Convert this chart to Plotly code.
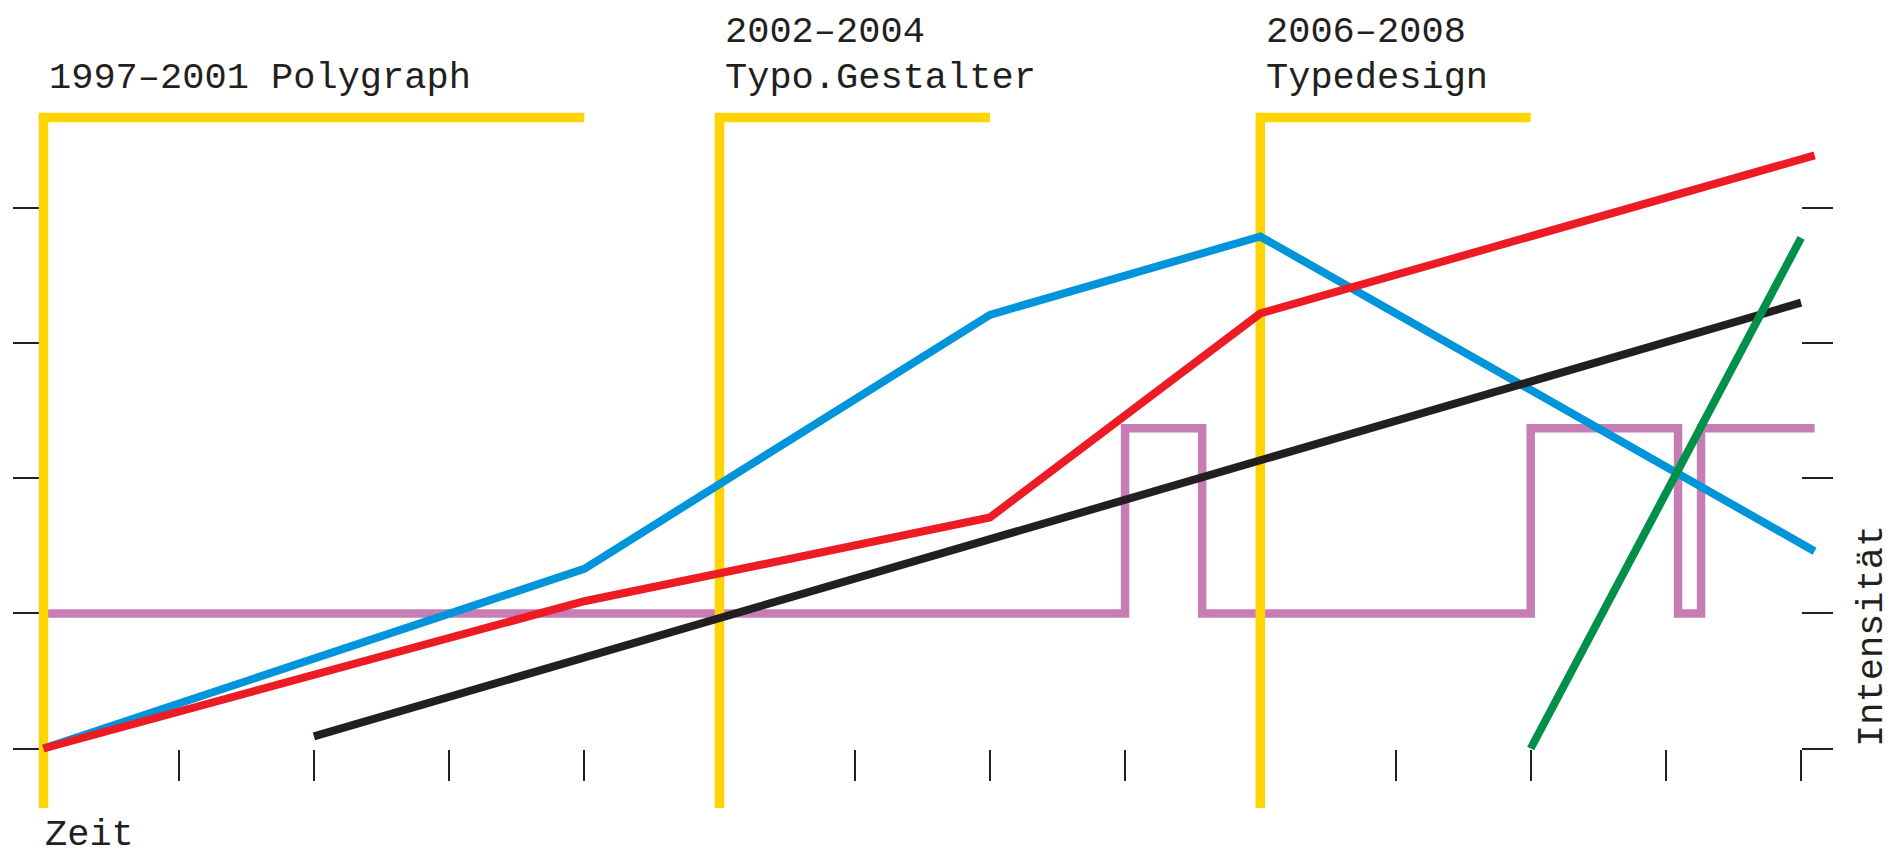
import plotly.graph_objects as go

# Time units along x (one tick per unit), intensity units along y
x_ticks = list(range(0, 14))
y_ticks = [0, 1, 2, 3, 4]

# Yellow phase brackets: start, end of the top bar
phase_start = [0, 5, 9]
phase_end = [4, 7, 11]
phase_bottom = -0.44
phase_top = 4.67
phase_years = ["1997–2001", "2002–2004", "2006–2008"]
phase_names = ["Polygraph", "Typo.Gestalter", "Typedesign"]

blue_x = [0, 4, 7, 9, 13.1]
blue_y = [0, 1.33, 3.21, 3.79, 1.46]

red_x = [0, 4, 7, 9, 13.1]
red_y = [0, 1.09, 1.71, 3.22, 4.39]

black_x = [2, 13]
black_y = [0.09, 3.3]

green_x = [11, 13]
green_y = [0, 3.78]

pink_x = [0, 8, 8.57, 11, 12.09, 12.26, 13.1]
pink_y = [1, 2.37, 1, 2.37, 1, 2.37, 2.37]

INK = "#231f20"
FONT = "Liberation Mono, Courier New, monospace"

fig = go.Figure()

# pink step line (bottom layer)
fig.add_trace(go.Scatter(x=pink_x, y=pink_y, mode="lines", line_shape="hv",
                         line=dict(color="#c57db4", width=8.5)))

# yellow brackets
yx, yy = [], []
for s, e in zip(phase_start, phase_end):
    yx += [s, s, e, None]
    yy += [phase_bottom, phase_top, phase_top, None]
fig.add_trace(go.Scatter(x=yx, y=yy, mode="lines",
                         line=dict(color="#ffd400", width=9.5)))

fig.add_trace(go.Scatter(x=blue_x, y=blue_y, mode="lines",
                         line=dict(color="#0095da", width=8)))
fig.add_trace(go.Scatter(x=red_x, y=red_y, mode="lines",
                         line=dict(color="#ed1c24", width=8)))
fig.add_trace(go.Scatter(x=black_x, y=black_y, mode="lines",
                         line=dict(color=INK, width=8)))
fig.add_trace(go.Scatter(x=green_x, y=green_y, mode="lines", yaxis="y2",
                         line=dict(color="#00904a", width=8)))

# pixel mapping: whole figure is the plot area (page adds an 8px body margin)
W, H = 1896, 853
x0_px, x_unit = 35.5, 135.2
y0_px, y_unit = 740.5, 135.1
x_range = [-x0_px / x_unit, (W - x0_px) / x_unit]
y_range = [-(H - y0_px) / y_unit, y0_px / y_unit]

tick_style = dict(ticks="outside", ticklen=31, tickwidth=1.6, tickcolor=INK,
                  showticklabels=False, showgrid=False, zeroline=False,
                  showline=False, layer="below traces", fixedrange=True)

annotations = []
for i, (s, yr, nm) in enumerate(zip(phase_start, phase_years, phase_names)):
    xs = s + (0.033 if i == 0 else 0.035)
    if i == 0:
        annotations.append(dict(x=xs, y=4.963, text=yr + " " + nm))
    else:
        annotations.append(dict(x=xs, y=5.301, text=yr))
        annotations.append(dict(x=xs, y=4.963, text=nm))
annotations.append(dict(x=0.0, y=-0.64, text="Zeit"))
for a in annotations:
    a.update(xref="x", yref="y", xanchor="left", yanchor="middle",
             showarrow=False, borderpad=0)
annotations.append(dict(x=13.524, y=0.833, text="Intensität", textangle=-90,
                        xref="x", yref="y", xanchor="center", yanchor="middle",
                        showarrow=False))

fig.update_layout(
    width=W, height=H,
    margin=dict(l=0, r=0, t=0, b=0),
    paper_bgcolor="white", plot_bgcolor="white",
    showlegend=False,
    font=dict(family=FONT, size=37, color=INK),
    xaxis=dict(range=x_range, domain=[0, 1], anchor="free", position=(H - y0_px) / H,
               tickvals=x_ticks, **tick_style),
    yaxis=dict(range=y_range, domain=[0, 1], anchor="free", position=x0_px / W,
               tickvals=y_ticks, **tick_style),
    yaxis2=dict(range=y_range, overlaying="y", side="right", anchor="free",
                position=(x0_px + 13 * x_unit) / W, tickvals=y_ticks, **tick_style),
    annotations=annotations,
)

fig.write_html("out.html", config={"displayModeBar": False})
